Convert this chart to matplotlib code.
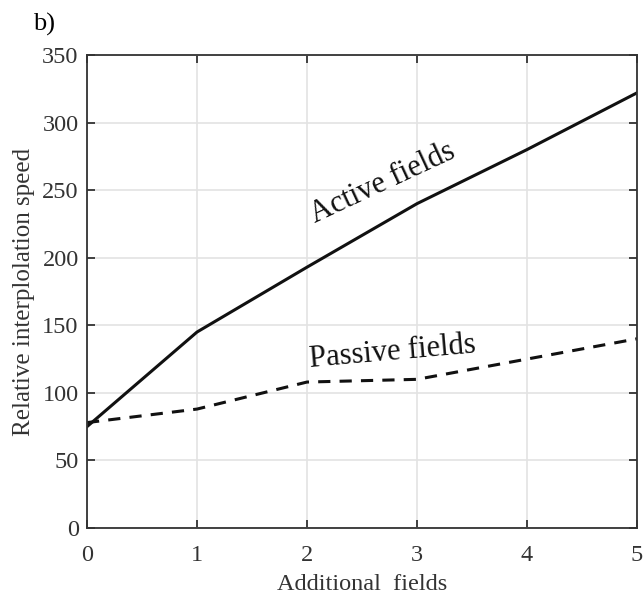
import matplotlib
matplotlib.use('Agg')
import matplotlib.pyplot as plt

plt.rcParams['font.family'] = ['Liberation Serif', 'DejaVu Serif']

fields = [0, 1, 2, 3, 4, 5]
active = [75, 145, 193, 240, 280, 322]
passive = [78, 88, 108, 110, 125, 140]

fig = plt.figure(figsize=(6.44, 5.96), dpi=100)
ax = fig.add_axes([87 / 644, 1 - 528 / 596, 550 / 644, 473 / 596])

ax.plot(fields, active, color='#111111', lw=2.2)
ax.plot(fields, passive, color='#111111', lw=2.2, ls=(0, (4, 3)))

ax.set_xlim(0, 5)
ax.set_ylim(0, 350)
ax.set_xticks(fields)
ax.set_yticks(range(0, 351, 50))
ax.grid(True, color='#e3e3e3', lw=1.2)
ax.set_axisbelow(True)
for s in ax.spines.values():
    s.set_color('#333333')
    s.set_linewidth(1.3)
ax.tick_params(direction='in', top=True, right=True, length=6, width=1.3,
               color='#333333', labelsize=17.5, labelcolor='#333333')
ax.tick_params(axis='x', pad=12)
ax.tick_params(axis='y', pad=6)

ax.set_xlabel('Additional  fields', fontsize=17.5, color='#333333', va='center')
ax.set_ylabel('Relative interplolation speed', fontsize=18, color='#333333', va='center')
ax.xaxis.set_label_coords(0.5, -0.12)
ax.yaxis.set_label_coords(-0.1145, 0.5)

ax.text(2.69, 255, 'Active fields', fontsize=22, rotation=25, ha='center', va='center',
        color='#111111')
ax.text(2.78, 130, 'Passive fields', fontsize=22, rotation=5, ha='center', va='center',
        color='#111111')
fig.text(33 / 644, 1 - 24 / 596, 'b)', fontsize=19, ha='left', va='center')

fig.savefig('out.png', dpi=100)
